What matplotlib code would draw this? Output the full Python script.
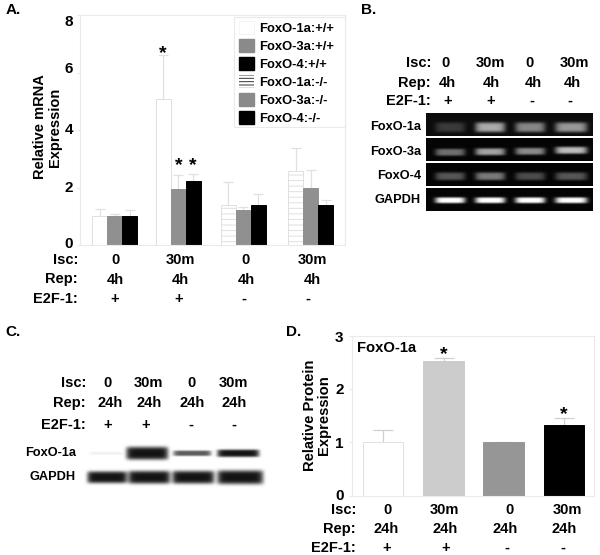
import numpy as np
import matplotlib
matplotlib.use("Agg")
import matplotlib.pyplot as plt
from matplotlib.patches import Patch, Rectangle
from matplotlib.transforms import ScaledTranslation

plt.rcParams['font.family'] = ['Liberation Sans', 'DejaVu Sans']
plt.rcParams['font.weight'] = 'bold'
plt.rcParams['hatch.linewidth'] = 0.7

# ---------- data ----------
isc = ['0', '30m', '0', '30m']
rep_4h = ['4h', '4h', '4h', '4h']
rep_24h = ['24h', '24h', '24h', '24h']
e2f1 = ['+', '+', '-', '-']

foxo1a_wt = [1.02, 5.08]
foxo3a_wt = [1.02, 1.96]
foxo4_wt = [1.02, 2.25]
foxo1a_ko = [1.39, 2.58]
foxo3a_ko = [1.24, 2.00]
foxo4_ko = [1.42, 1.39]
foxo1a_wt_top = [1.28, 6.60]
foxo3a_wt_top = [1.11, 2.44]
foxo4_wt_top = [1.23, 2.48]
foxo1a_ko_top = [2.19, 3.37]
foxo3a_ko_top = [1.32, 2.62]
foxo4_ko_top = [1.78, 1.57]

protein = [1.0, 2.52, 1.0, 1.33]
protein_top = [1.24, 2.59, 1.01, 1.45]
protein_colors = ['white', '#cccccc', '#969696', 'black']

gel_b_names = ['FoxO-1a', 'FoxO-3a', 'FoxO-4', 'GAPDH']
gel_b_levels = [[0.18, 0.62, 0.48, 0.55],
                [0.42, 0.62, 0.52, 0.72],
                [0.32, 0.46, 0.28, 0.32],
                [1.00, 1.00, 1.00, 1.00]]
blot_c_names = ['FoxO-1a', 'GAPDH']
blot_c_levels = [[0.06, 1.0, 0.7, 1.0],
                 [1.0, 1.0, 1.0, 1.0]]

# ---------- layout ----------
W, H = 600, 555
fig = plt.figure(figsize=(W / 100, H / 100), dpi=100, facecolor='white')


def axes_px(x0, y0, x1, y1):
    return fig.add_axes([x0 / W, 1 - y1 / H, (x1 - x0) / W, (y1 - y0) / H])


GRID = '#eaeaea'
BIG = 10.5
pix = axes_px(0, 0, W, H)
pix.set_zorder(5)
pix.patch.set_alpha(0)
pix.axis('off')
pix.set_xlim(0, W)
pix.set_ylim(H, 0)


def put(x, y, s, size=BIG, ha='center', **kw):
    pix.text(x, y, s, fontsize=size, ha=ha, va='center', fontweight='bold', color='black', **kw)


def table(rows_y, right, cols, labels):
    for y, name, xs, vals in zip(rows_y, ['Isc:', 'Rep:', 'E2F-1:'], cols, labels):
        put(right, y, name, ha='right')
        for x, v in zip(xs, vals):
            put(x, y, v)


def shift_ticklabels(ax, offsets):
    for lab, dy in zip(ax.get_yticklabels(), offsets):
        lab.set_transform(lab.get_transform() + ScaledTranslation(0, dy / 100, fig.dpi_scale_trans))


def style_axes(ax):
    for s in ax.spines.values():
        s.set_color(GRID)
        s.set_linewidth(0.8)
    ax.tick_params(axis='x', length=0, labelbottom=False)
    ax.tick_params(axis='y', length=2, color=GRID, pad=3, labelsize=11)


# ---------- panel A ----------
axA = axes_px(80, 15, 345, 245.5)
axA.set_xlim(80, 345)
axA.set_ylim(0, 8)
axA.set_yticks([0, 2, 4, 6, 8])
style_axes(axA)
shift_ticklabels(axA, [3, 1, 2, 5, -6])

left_wt = [92, 155.7]
left_ko = [220.7, 288.3]
bw = 15
edge = '#e0e0e0'
series = [
    (left_wt, 0, foxo1a_wt, foxo1a_wt_top, 'white', None),
    (left_wt, 1, foxo3a_wt, foxo3a_wt_top, '#909090', None),
    (left_wt, 2, foxo4_wt, foxo4_wt_top, 'black', None),
    (left_ko, 0, foxo1a_ko, foxo1a_ko_top, 'white', '---'),
    (left_ko, 1, foxo3a_ko, foxo3a_ko_top, '#909090', None),
    (left_ko, 2, foxo4_ko, foxo4_ko_top, 'black', None),
]
for lefts, k, vals, tops, col, hatch in series:
    xs = np.array(lefts) + k * bw + bw / 2
    axA.vlines(xs, vals, tops, color=edge, lw=0.9, zorder=1)
    axA.hlines(tops, xs - 5, xs + 5, color=edge, lw=0.9, zorder=1)
    axA.bar(xs, vals, width=bw, color=col, edgecolor=edge if col == 'white' else col,
            linewidth=0.7, hatch=hatch, zorder=2)

handles = [
    Patch(facecolor='white', edgecolor='#f2f2f2', lw=0.5, label='FoxO-1a:+/+'),
    Patch(facecolor='#8a8a8a', edgecolor='#8a8a8a', label='FoxO-3a:+/+'),
    Patch(facecolor='black', edgecolor='black', label='FoxO-4:+/+'),
    Patch(facecolor='white', edgecolor='#333333', lw=0, hatch='-----', label='FoxO-1a:-/-'),
    Patch(facecolor='#8a8a8a', edgecolor='#8a8a8a', label='FoxO-3a:-/-'),
    Patch(facecolor='black', edgecolor='black', label='FoxO-4:-/-'),
]
axA.add_patch(Rectangle((234, 17), 110.5, 110, transform=pix.transData, facecolor='white',
                        edgecolor=GRID, lw=0.8, zorder=4, clip_on=False))
leg = axA.legend(handles=handles, loc='upper left', bbox_to_anchor=(239 / W, 1 - 21 / H),
                 bbox_transform=fig.transFigure, fontsize=9.4, frameon=False,
                 handlelength=1.15, handleheight=1.12, labelspacing=0.33, handletextpad=0.4,
                 borderpad=0, borderaxespad=0)

put(47.5, 127, 'Relative mRNA\nExpression', rotation=90, linespacing=1.1, multialignment='center')
table([259.5, 279.5, 299], 78,
      [[115, 180, 246, 312], [115, 180, 246, 312], [115, 179, 244, 308]],
      [isc, rep_4h, e2f1])
put(6, 10, 'A.', ha='left', size=11)
for x, y in [(163, 54), (179, 166), (193, 166)]:
    put(x, y, '*', size=14)

# ---------- panel B ----------
put(361, 10, 'B.', ha='left', size=11)
table([63, 83, 101], 431,
      [[445, 490, 530, 574], [447, 491, 533, 572], [448, 491, 532, 570]],
      [isc, rep_4h, e2f1])
gel_rows = [(113, 136, 127), (138, 161, 152), (163, 186, 176), (188, 211, 200)]
gel_lanes = [(450, 15), (490, 15), (530, 15), (571, 16)]
row_tilt = [[0, 0, 0, 0], [0, -0.5, -1, -2], [0, 0, 0, 0], [0, 0, 0, 0]]
row_hh = [5.0, 3.6, 4.0, 3.0]
for r, (name, levels, (y0, y1, yc)) in enumerate(zip(gel_b_names, gel_b_levels, gel_rows)):
    yy, xx = np.mgrid[y0:y1:0.5, 426:593:0.5]
    img = np.full(yy.shape, 0.05 if r == 0 else 0.02)
    for lev, (cx, hw), dy in zip(levels, gel_lanes, row_tilt[r]):
        img += lev * np.exp(-((xx - cx) / hw) ** 6) * np.exp(-((yy - yc - dy) / row_hh[r]) ** 4)
    pix.imshow(np.clip(img, 0, 1), extent=(426, 593, y1, y0), cmap='gray', vmin=0, vmax=1,
               aspect='auto', interpolation='bilinear')
    put(421, yc, name, size=9.2, ha='right')

# ---------- panel C ----------
put(5, 332, 'C.', ha='left', size=11)
table([383, 403, 425], 86,
      [[108, 148, 192, 233], [110, 149, 192, 234], [108, 146, 191, 234]],
      [isc, rep_24h, e2f1])
c_rows = [(453, [1.5, 6.5, 2.8, 3.8]), (477, [6, 6.5, 6.5, 7])]
c_lanes = [[(106, 17), (147, 21), (192, 19), (238, 21)],
           [(107, 20), (149, 21), (193, 21), (240, 23)]]
yy, xx = np.mgrid[438:495:0.5, 84:268:0.5]
dark = np.zeros(yy.shape)
for levels, (yc, hhs), lanes in zip(blot_c_levels, c_rows, c_lanes):
    for lev, hh, (cx, hw) in zip(levels, hhs, lanes):
        dark += lev * np.exp(-((xx - cx) / hw) ** 10) * np.exp(-((yy - yc) / hh) ** 4)
pix.imshow(1 - 0.92 * np.clip(dark, 0, 1), extent=(84, 268, 495, 438), cmap='gray', vmin=0, vmax=1,
           aspect='auto', interpolation='bilinear')
for name, y in zip(blot_c_names, [453, 477]):
    put(76, y, name, size=9.2, ha='right')

pix.set_xlim(0, W)
pix.set_ylim(H, 0)

# ---------- panel D ----------
put(286, 332, 'D.', ha='left', size=11)
axD = axes_px(352, 335.7, 594, 495.7)
axD.set_xlim(352, 594)
axD.set_ylim(0, 3)
axD.set_yticks([0, 1, 2, 3])
style_axes(axD)
axD.tick_params(axis='y', pad=4)
shift_ticklabels(axD, [1, 0, 1, -1])
d_centers = [383, 443.5, 503.7, 564]
for x, v, t in zip(d_centers, protein, protein_top):
    axD.vlines(x, v, t, color='#d0d0d0', lw=0.9, zorder=1)
    axD.hlines(t, x - 10, x + 10, color='#d0d0d0', lw=0.9, zorder=1)
axD.bar(d_centers, protein, width=40.5, color=protein_colors,
        edgecolor=[edge, '#cccccc', '#969696', 'black'], linewidth=0.7, zorder=2)
put(317, 415.5, 'Relative Protein\nExpression', rotation=90, linespacing=1.05, multialignment='center', size=10.6)
put(357, 348, 'FoxO-1a', ha='left', size=10.6)
table([510, 529, 548], 356,
      [[387, 444, 509, 567], [386, 445, 505, 564], [387, 446, 507, 563]],
      [isc, rep_24h, e2f1])
for x, y in [(444, 355), (564, 415)]:
    put(x, y, '*', size=14)

fig.savefig('out.png', dpi=100)
